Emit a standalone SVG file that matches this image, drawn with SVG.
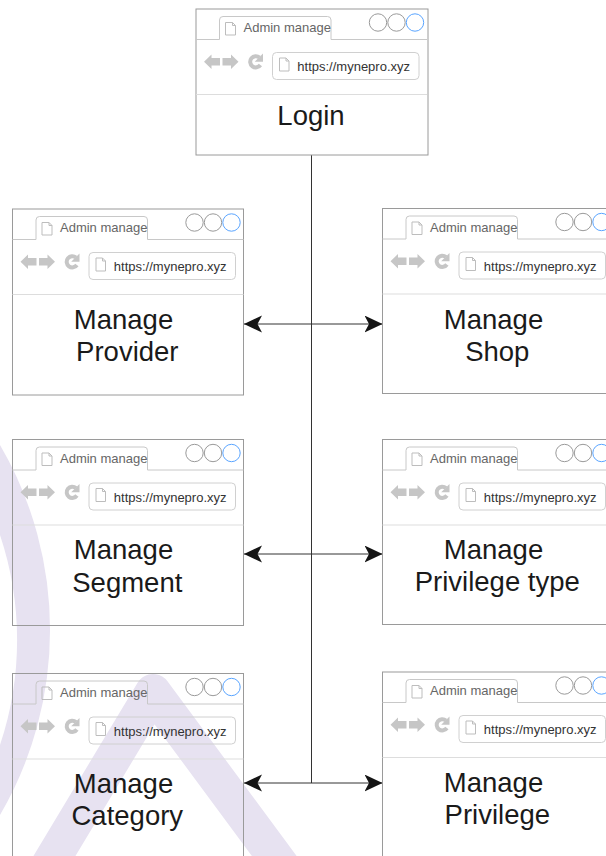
<svg xmlns="http://www.w3.org/2000/svg" xmlns:xlink="http://www.w3.org/1999/xlink" width="606" height="856" viewBox="0 0 606 856">
  <style>
    .frame { fill: none; stroke: #9a9a9a; stroke-width: 1; }
    .tab { fill: none; stroke: #c8c8c8; stroke-width: 1; }
    .doc { fill: none; stroke: #bdbdbd; stroke-width: 1; }
    .dot { fill: none; stroke: #9a9a9a; stroke-width: 1; }
    .dot-blue { fill: none; stroke: #5aa5ff; stroke-width: 1; }
    .nav { fill: #c6c6c6; }
    .reload { fill: none; stroke: #c6c6c6; stroke-width: 4; }
    .addr { fill: none; stroke: #d0d0d0; stroke-width: 1; }
    .divider { stroke: #dddddd; stroke-width: 1; }
    .tabtext { font-family: "Liberation Sans", Arial, sans-serif; font-size: 13px; fill: #666666; }
    .url { font-family: "Liberation Sans", Arial, sans-serif; font-size: 13px; fill: #333333; }
    .title { font-family: "Liberation Sans", Arial, sans-serif; font-size: 27.5px; fill: #1a1a1a; text-anchor: middle; }
    .link { fill: none; stroke: #333333; stroke-width: 1; }
    .mark { fill: #e7e2f1; }
    .mark-line { fill: none; stroke: #e7e2f1; stroke-width: 36; stroke-linejoin: round; }
  </style>
  <defs>
    <marker id="arrow" markerUnits="userSpaceOnUse" markerWidth="20" markerHeight="18" refX="18" refY="8.5" orient="auto-start-reverse" viewBox="0 0 20 18">
      <path d="M0,0 L18,8.5 L0,17 L4.5,8.5 Z" fill="#141414"/>
    </marker>
    <!-- browser chrome: tab strip, window buttons, toolbar and address bar -->
    <g id="chrome">
      <path class="tab" d="M0,30.5 H23.5 V11 Q23.5,7.5 27,7.5 H131.5 Q135,7.5 135,11 V30.5 H231"/>
      <path class="doc" d="M29.5,13.5 H36.5 L39.5,16.5 V26 H29.5 Z M36.5,13.5 V16.5 H39.5"/>
      <text class="tabtext" x="47.5" y="23">Admin manage</text>
      <circle class="dot" cx="182" cy="13.5" r="8.7"/>
      <circle class="dot" cx="200.5" cy="13.5" r="8.7"/>
      <circle class="dot-blue" cx="219" cy="13.5" r="8.7"/>
      <!-- back / forward / reload -->
      <path class="nav" d="M8,52.7 L15.5,45.5 V49 H24 V56.4 H15.5 V60 Z"/>
      <path class="nav" d="M42.5,52.7 L35,45.5 V49 H26.5 V56.4 H35 V60 Z"/>
      <path class="reload" d="M63.5,48.6 A5.6,5.6 0 1 0 64.4,56"/>
      <path class="nav" d="M67,44.5 V52.8 H58.7 Z"/>
      <rect class="addr" x="76.5" y="43.5" width="146.5" height="27" rx="4"/>
      <path class="doc" d="M83.5,49 H90 L93,52 V62 H83.5 Z M90,49 V52 H93"/>
      <text class="url" x="101.3" y="62">https://mynepro.xyz</text>
      <line class="divider" x1="0" y1="85.5" x2="231" y2="85.5"/>
    </g>
  </defs>

  <rect width="606" height="856" fill="#ffffff"/>

  <!-- faint logo mark in the background -->
  <g id="backdrop">
    <path class="mark" d="M0,445 A367,367 0 0 1 0,815 V745 A331,331 0 0 0 0,535 Z"/>
    <path class="mark-line" d="M40,880 L153,692 L292,880"/>
  </g>

  <!-- connectors -->
  <g id="connectors">
    <line class="link" x1="311.5" y1="155" x2="311.5" y2="783"/>
    <line class="link" x1="244" y1="324" x2="382.5" y2="324" marker-start="url(#arrow)" marker-end="url(#arrow)"/>
    <line class="link" x1="244" y1="554" x2="382.5" y2="554" marker-start="url(#arrow)" marker-end="url(#arrow)"/>
    <line class="link" x1="244" y1="783" x2="382.5" y2="783" marker-start="url(#arrow)" marker-end="url(#arrow)"/>
  </g>

  <g id="login">
    <rect class="frame" x="196" y="9" width="232" height="146"/>
    <use xlink:href="#chrome" x="196" y="9"/>
    <text class="title" x="311" y="125">Login</text>
  </g>

  <g id="manage-provider">
    <rect class="frame" x="12.5" y="209" width="231" height="186"/>
    <use xlink:href="#chrome" x="12.5" y="209"/>
    <text class="title" x="123.5" y="329">Manage</text>
    <text class="title" x="127.3" y="361.4">Provider</text>
  </g>

  <g id="manage-shop">
    <rect class="frame" x="382.5" y="208.5" width="231" height="185"/>
    <use xlink:href="#chrome" x="382.5" y="208.5"/>
    <text class="title" x="493.5" y="328.5">Manage</text>
    <text class="title" x="497.3" y="360.9">Shop</text>
  </g>

  <g id="manage-segment">
    <rect class="frame" x="12.5" y="439.5" width="231" height="186"/>
    <use xlink:href="#chrome" x="12.5" y="439.5"/>
    <text class="title" x="123.5" y="559.3">Manage</text>
    <text class="title" x="127.3" y="591.7">Segment</text>
  </g>

  <g id="manage-privilege-type">
    <rect class="frame" x="382.5" y="439.5" width="231" height="185"/>
    <use xlink:href="#chrome" x="382.5" y="439.5"/>
    <text class="title" x="493.5" y="558.6">Manage</text>
    <text class="title" x="497.3" y="591">Privilege type</text>
  </g>

  <g id="manage-category">
    <rect class="frame" x="12.5" y="673.5" width="231" height="190"/>
    <use xlink:href="#chrome" x="12.5" y="673.5"/>
    <text class="title" x="123.5" y="792.8">Manage</text>
    <text class="title" x="127.3" y="825">Category</text>
  </g>

  <g id="manage-privilege">
    <rect class="frame" x="382.5" y="672" width="231" height="190"/>
    <use xlink:href="#chrome" x="382.5" y="672"/>
    <text class="title" x="493.5" y="791.5">Manage</text>
    <text class="title" x="497.3" y="823.5">Privilege</text>
  </g>
</svg>
